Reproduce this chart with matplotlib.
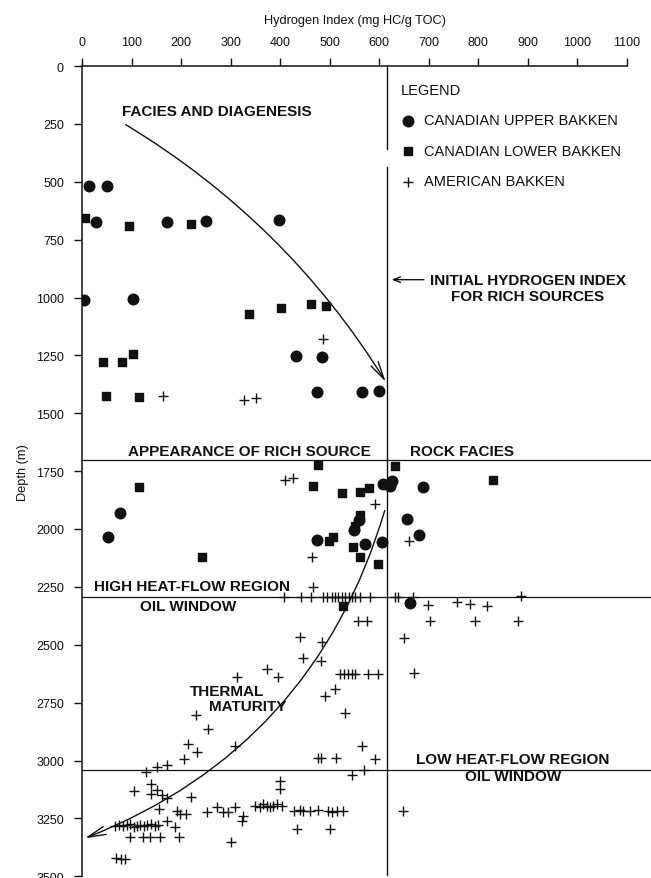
import matplotlib
matplotlib.use('Agg')
import matplotlib.pyplot as plt

plt.rcParams['font.family'] = ['Liberation Sans', 'DejaVu Sans']

# Canadian upper Bakken (circles): hydrogen index, depth (m)
cu_hi = [15, 50, 28, 172, 250, 398, 5, 102, 432, 484, 474, 566, 599,
         77, 52, 608, 622, 625, 689, 560, 548, 655, 680, 475, 571, 605, 662]
cu_depth = [520, 520, 675, 672, 670, 665, 1012, 1005, 1253, 1258, 1407, 1410, 1402,
            1931, 2033, 1806, 1813, 1794, 1817, 1960, 2005, 1957, 2026, 2048, 2065, 2058, 2321]

# Canadian lower Bakken (squares)
cl_hi = [7, 95, 221, 42, 81, 102, 49, 116, 338, 401, 462, 492,
         477, 632, 116, 467, 524, 561, 579, 830, 561, 550, 499, 507, 547, 561, 598, 242, 527]
cl_depth = [658, 690, 683, 1277, 1277, 1243, 1427, 1431, 1073, 1044, 1028, 1035,
            1722, 1729, 1820, 1816, 1844, 1839, 1824, 1787, 1940, 1985, 2053, 2036, 2076, 2120, 2151, 2120, 2331]

# American Bakken (plus)
am_hi = [487, 163, 326, 352,
         410, 426, 591, 465, 659, 467,
         408, 443, 463, 487, 494, 504, 511, 517, 524, 531, 538, 544, 551, 561, 581, 632, 638, 669, 887,
         699, 756, 784, 817, 702, 794, 880, 558, 576,
         440, 484, 447, 482, 650, 313, 373, 396, 670,
         520, 528, 536, 544, 552, 578, 598,
         510, 490, 531, 231, 255, 213, 233, 309, 206, 566, 477, 482, 513, 591, 544, 569,
         129, 152, 172, 400, 400,
         105, 139, 139, 151, 161, 172, 221, 155, 191, 198, 210,
         67, 75, 83, 90, 97, 104, 111, 118, 125, 132, 140, 147, 154, 172, 188,
         97, 124, 138, 158, 195, 68, 78, 86,
         252, 272, 285, 295, 309, 300, 325, 322,
         349, 359, 366, 373, 379, 386, 393, 403,
         427, 440, 447, 460, 477, 497, 504, 514, 527,
         433, 500, 648]
am_depth = [1179, 1427, 1441, 1434,
            1788, 1780, 1892, 2122, 2053, 2252,
            2295, 2295, 2295, 2295, 2295, 2295, 2295, 2295, 2295, 2295, 2295, 2295, 2295, 2295, 2295, 2295, 2295, 2295, 2290,
            2327, 2317, 2324, 2331, 2396, 2396, 2396, 2396, 2396,
            2468, 2490, 2559, 2569, 2471, 2638, 2605, 2638, 2624,
            2626, 2626, 2626, 2626, 2626, 2626, 2626,
            2691, 2723, 2795, 2803, 2864, 2929, 2965, 2936, 2994, 2936, 2990, 2990, 2990, 2994, 3063, 3040,
            3051, 3030, 3020, 3087, 3123,
            3130, 3102, 3145, 3126, 3149, 3163, 3159, 3209, 3216, 3231, 3231,
            3282, 3278, 3285, 3280, 3275, 3288, 3282, 3278, 3285, 3280, 3275, 3282, 3278, 3260, 3289,
            3332, 3332, 3332, 3332, 3332, 3420, 3425, 3425,
            3224, 3202, 3224, 3224, 3202, 3351, 3238, 3260,
            3195, 3200, 3190, 3195, 3200, 3195, 3190, 3195,
            3217, 3212, 3217, 3217, 3212, 3217, 3222, 3217, 3217,
            3296, 3296, 3217]

hi_ticks = list(range(0, 1101, 100))
depth_ticks = list(range(0, 3501, 250))
initial_hi = 616
boundaries = [1700, 2295, 3040]

ink = '#111111'

fig = plt.figure(figsize=(6.51, 8.79), dpi=100)
ax = fig.add_axes([82 / 651, 1 - 877.25 / 879, 545 / 651, 810.25 / 879])

ax.scatter(cu_hi, cu_depth, marker='o', s=58, color=ink, zorder=3,
           label='CANADIAN UPPER BAKKEN')
ax.scatter(cl_hi, cl_depth, marker='s', s=38, color=ink, zorder=3,
           label='CANADIAN LOWER BAKKEN')
ax.scatter(am_hi, am_depth, marker='+', s=48, color=ink, linewidths=1.0, zorder=3,
           label='AMERICAN BAKKEN')

ax.set_xlim(0, 1100)
ax.set_ylim(3500, 0)
ax.xaxis.tick_top()
ax.xaxis.set_label_position('top')
ax.set_xticks(hi_ticks)
ax.set_yticks(depth_ticks)
ax.tick_params(axis='both', direction='out', length=6, width=1, labelsize=9,
               color=ink, labelcolor=ink, pad=7)
ax.set_xlabel('Hydrogen Index (mg HC/g TOC)', fontsize=9.2, labelpad=9, color=ink)
ax.set_ylabel('Depth (m)', fontsize=9.2, labelpad=5, color=ink)
for side in ['right', 'bottom']:
    ax.spines[side].set_visible(False)
for side in ['top', 'left']:
    ax.spines[side].set_linewidth(1.1)
    ax.spines[side].set_color(ink)

# boundary lines
for b in boundaries:
    ax.plot([0, 1150], [b, b], color=ink, lw=0.9, clip_on=False, zorder=2)
ax.plot([initial_hi, initial_hi], [0, 358], color=ink, lw=1.0, zorder=2)
ax.plot([initial_hi, initial_hi], [436, 3500], color=ink, lw=1.0, zorder=2)

# legend
leg = ax.legend(loc='upper left', bbox_to_anchor=(0.585, 0.979), frameon=False,
                title='LEGEND', alignment='left', fontsize=10.5, title_fontsize=10.5,
                handlelength=0.95, handletextpad=0.62, labelspacing=1.13,
                borderpad=0, borderaxespad=0, scatterpoints=1)
leg.get_title().set_color(ink)
for t in leg.get_texts():
    t.set_color(ink)

bold = dict(fontsize=11, fontweight='bold', color=ink, va='center')
ax.text(80, 193, 'FACIES AND DIAGENESIS', ha='left', **bold)
ax.text(900, 923, 'INITIAL HYDROGEN INDEX', ha='center', **bold)
ax.text(900, 995, 'FOR RICH SOURCES', ha='center', **bold)
ax.text(93, 1662, 'APPEARANCE OF RICH SOURCE', ha='left', **bold)
ax.text(662, 1662, 'ROCK FACIES', ha='left', **bold)
ax.text(222, 2248, 'HIGH HEAT-FLOW REGION', ha='center', **bold)
ax.text(214, 2331, 'OIL WINDOW', ha='center', **bold)
ax.text(218, 2698, 'THERMAL', ha='left', **bold)
ax.text(257, 2763, 'MATURITY', ha='left', **bold)
ax.text(870, 2994, 'LOW HEAT-FLOW REGION', ha='center', **bold)
ax.text(871, 3067, 'OIL WINDOW', ha='center', **bold)

arrow = dict(arrowstyle='->,head_length=1.3,head_width=0.3', color=ink, lw=1.0,
             shrinkA=0, shrinkB=0, mutation_scale=10)
ax.annotate('', xy=(613, 1364), xytext=(88, 253),
            arrowprops=dict(connectionstyle='arc3,rad=-0.12', **arrow))
ax.annotate('', xy=(6, 3336), xytext=(611, 1920),
            arrowprops=dict(connectionstyle='arc3,rad=-0.244', **arrow))
ax.annotate('', xy=(625, 923), xytext=(690, 923),
            arrowprops=dict(arrowstyle='->,head_length=0.5,head_width=0.2', color=ink,
                            lw=1.0, shrinkA=0, shrinkB=0, mutation_scale=10))

fig.savefig('out.png', dpi=100, facecolor='white')
